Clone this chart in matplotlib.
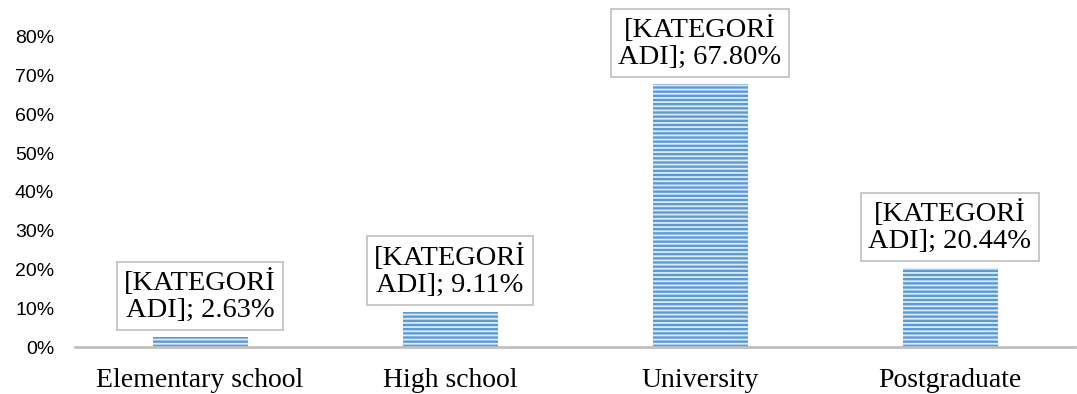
import matplotlib.pyplot as plt
import matplotlib as mpl

categories = ['Elementary school', 'High school', 'University', 'Postgraduate']
values = [2.63, 9.11, 67.80, 20.44]
ytick_vals = [0, 10, 20, 30, 40, 50, 60, 70, 80]

mpl.rcParams['hatch.linewidth'] = 1.3

fig = plt.figure(figsize=(10.77, 3.94), dpi=100)
ax = fig.add_axes([75 / 1077, 47 / 394, 1000 / 1077, 347 / 394])

x = range(len(categories))
ax.bar(x, values, width=0.38, color='#5B9BD5', edgecolor='#DDEBF7',
       linewidth=0, hatch='----', zorder=2)

for i, v in zip(x, values):
    ax.annotate(f'[KATEGORİ\nADI]; {v:.2f}%', xy=(i, v), xytext=(0, 10),
                textcoords='offset points', ha='center', va='bottom',
                family='Liberation Serif', fontsize=20.5, linespacing=1.12,
                bbox=dict(boxstyle='square,pad=0.25', fc='white', ec='#BFBFBF', lw=1.2))

ax.set_xlim(-0.5, 3.5)
ax.set_ylim(0, 89.5)
ax.set_xticks(list(x))
ax.set_xticklabels(categories, family='Liberation Serif', fontsize=20)
ax.set_yticks(ytick_vals)
ax.set_yticklabels([f'{t}%' for t in ytick_vals], family='Liberation Sans', fontsize=14)
ax.tick_params(axis='both', length=0)
ax.tick_params(axis='y', pad=15)
ax.tick_params(axis='x', pad=15)

for s in ['top', 'right', 'left']:
    ax.spines[s].set_visible(False)
ax.spines['bottom'].set_color('#BFBFBF')
ax.spines['bottom'].set_linewidth(2)

fig.savefig('out.png', dpi=100)
